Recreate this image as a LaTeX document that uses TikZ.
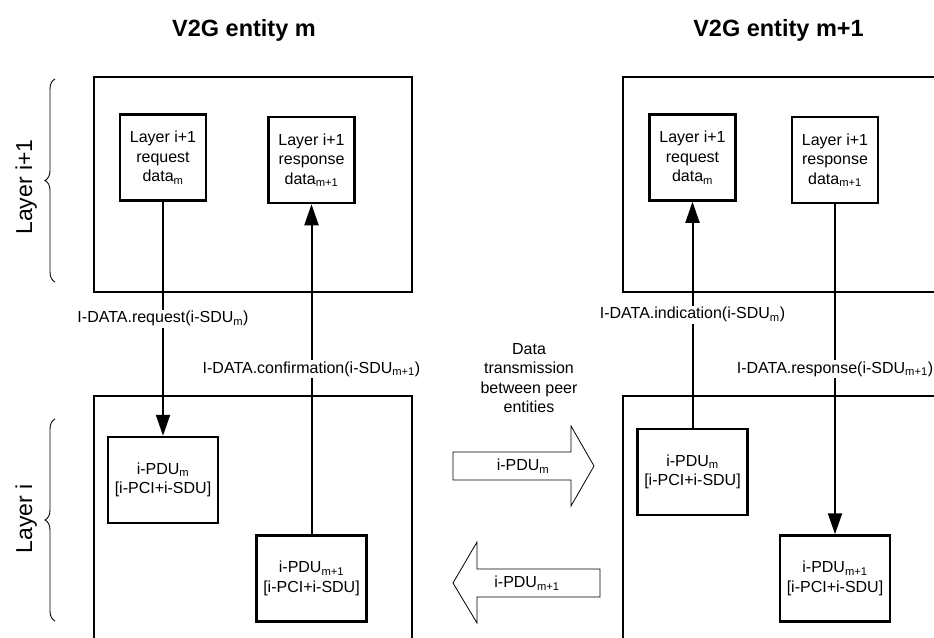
\documentclass[tikz,border=0pt]{standalone}
\usepackage{fontspec}
\setmainfont{Liberation Sans}
\usetikzlibrary{arrows.meta,decorations.pathreplacing}
\newcommand\lsub[1]{\textsubscript{#1}}
\begin{document}
\begin{tikzpicture}[x=1pt,y=-1pt,
  font=\fontsize{16}{19.5}\selectfont,
  bigbox/.style={draw,line width=2.5pt,minimum width=318pt,minimum height=215pt,inner sep=0pt},
  inbox/.style={draw,line width=2.5pt,align=center,inner sep=0pt,minimum width=86pt,minimum height=86pt},
  pdubox/.style={draw,line width=2.5pt,align=center,inner sep=0pt,minimum width=110pt,minimum height=86pt},
  conn/.style={line width=2pt},
  arrowtip/.style={-{Triangle[length=21pt,width=14pt]}},
  lbl/.style={fill=white,inner sep=1.5pt},
  titlestyle/.style={font=\fontsize{23.5}{28}\selectfont\bfseries,anchor=base},
  layerlbl/.style={font=\fontsize{23}{28}\selectfont,rotate=90,anchor=base},
  hollow/.style={draw,line width=0.8pt,line join=miter},
  bracestyle/.style={decorate,decoration={brace,amplitude=10pt},line width=0.9pt}
]
\useasboundingbox (0,0) rectangle (934,637);
\clip (0,0) rectangle (934,637);

% titles
\node[titlestyle] (t1) at (244,36) {V2G entity m};
\node[titlestyle] (t2) at (778.5,36) {V2G entity m+1};

% layer labels and braces
\node[layerlbl] (l1) at (32,187) {Layer i+1};
\node[layerlbl] (l2) at (32,519) {Layer i};
\draw[bracestyle] (55,282) -- (55,79);
\draw[bracestyle] (55,621) -- (55,419);

% outer boxes
\node[bigbox] (tl) at (253,184.5) {};
\node[bigbox] (tr) at (782,184.5) {};
\node[bigbox,minimum height=280pt] (bl) at (253,536) {};
\node[bigbox,minimum height=280pt] (br) at (782,536) {};

% inner boxes
\node[inbox] (reqL) at (163,157.5) {Layer i+1\\request\\data\lsub{m}};
\node[inbox] (resL) at (311.5,160) {Layer i+1\\response\\data\lsub{m+1}};
\node[inbox] (reqR) at (692.5,157.5) {Layer i+1\\request\\data\lsub{m}};
\node[inbox] (resR) at (835,160) {Layer i+1\\response\\data\lsub{m+1}};

\node[pdubox] (pduL) at (163,480) {i-PDU\lsub{m}\\{[i-PCI+i-SDU]}};
\node[pdubox] (pdu1L) at (311.5,578.5) {i-PDU\lsub{m+1}\\{[i-PCI+i-SDU]}};
\node[pdubox] (pduR) at (692.5,472) {i-PDU\lsub{m}\\{[i-PCI+i-SDU]}};
\node[pdubox] (pdu1R) at (835,578.5) {i-PDU\lsub{m+1}\\{[i-PCI+i-SDU]}};

% connectors
\draw[conn,arrowtip] (reqL.south) -- node[lbl,midway] {I-DATA.request(i-SDU\lsub{m})} (pduL.north);
\draw[conn,arrowtip] (pdu1L.north) -- node[lbl,midway] {I-DATA.confirmation(i-SDU\lsub{m+1})} (resL.south);
\draw[conn,arrowtip] (pduR.north) -- node[lbl,midway] {I-DATA.indication(i-SDU\lsub{m})} (reqR.south);
\draw[conn,arrowtip] (resR.south) -- node[lbl,midway] {I-DATA.response(i-SDU\lsub{m+1})} (pdu1R.north);

% peer transmission
\node[align=center] (dt) at (529,378) {Data\\transmission\\between peer\\entities};
\draw[hollow] (453,452) -- (571,452) -- (571,426) -- (594,466) -- (571,506) -- (571,480) -- (453,480) -- cycle;
\node (a1) at (523,466) {i-PDU\lsub{m}};
\draw[hollow] (600,569) -- (477,569) -- (477,542) -- (453,583) -- (477,623) -- (477,597) -- (600,597) -- cycle;
\node (a2) at (527,583) {i-PDU\lsub{m+1}};
\end{tikzpicture}
\end{document}
